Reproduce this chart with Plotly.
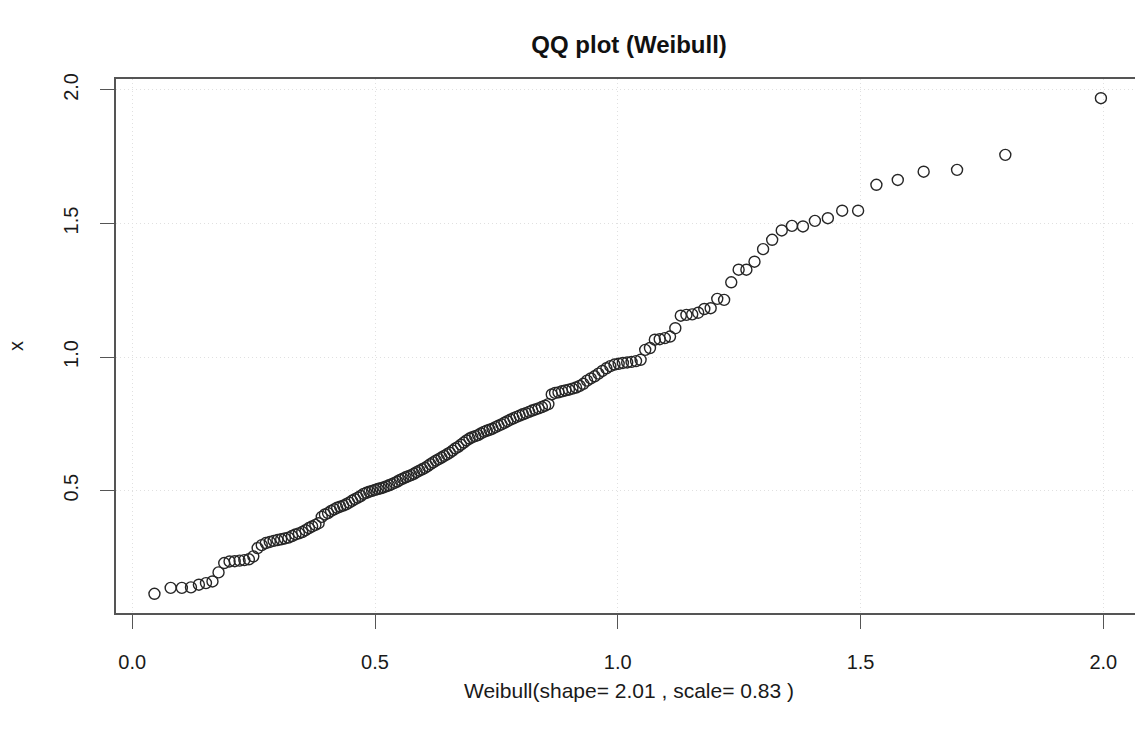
import plotly.graph_objects as go

# Theoretical Weibull quantiles (shape=2.01, scale=0.83), read from the x-axis
theoretical = [
    0.0457, 0.0791, 0.1021, 0.1209, 0.1372, 0.1518, 0.1652, 0.1777, 0.1894, 0.2004,
    0.2110, 0.2211, 0.2308, 0.2402, 0.2493, 0.2582, 0.2667, 0.2751, 0.2833, 0.2912,
    0.2991, 0.3067, 0.3143, 0.3217, 0.3290, 0.3361, 0.3432, 0.3501, 0.3570, 0.3638,
    0.3705, 0.3772, 0.3838, 0.3903, 0.3968, 0.4032, 0.4095, 0.4158, 0.4220, 0.4282,
    0.4344, 0.4405, 0.4466, 0.4526, 0.4586, 0.4646, 0.4705, 0.4765, 0.4824, 0.4882,
    0.4941, 0.4999, 0.5057, 0.5115, 0.5173, 0.5230, 0.5288, 0.5345, 0.5402, 0.5459,
    0.5516, 0.5573, 0.5630, 0.5687, 0.5744, 0.5800, 0.5857, 0.5914, 0.5971, 0.6027,
    0.6084, 0.6141, 0.6198, 0.6255, 0.6312, 0.6369, 0.6426, 0.6483, 0.6540, 0.6598,
    0.6655, 0.6713, 0.6771, 0.6829, 0.6887, 0.6946, 0.7004, 0.7063, 0.7122, 0.7181,
    0.7241, 0.7300, 0.7360, 0.7420, 0.7481, 0.7543, 0.7604, 0.7665, 0.7727, 0.7789,
    0.7852, 0.7915, 0.7979, 0.8043, 0.8107, 0.8172, 0.8237, 0.8303, 0.8369, 0.8436,
    0.8503, 0.8571, 0.8640, 0.8709, 0.8779, 0.8850, 0.8921, 0.8993, 0.9066, 0.9140,
    0.9215, 0.9290, 0.9367, 0.9444, 0.9523, 0.9602, 0.9683, 0.9765, 0.9847, 0.9932,
    1.0018, 1.0105, 1.0194, 1.0284, 1.0376, 1.0470, 1.0565, 1.0663, 1.0763, 1.0864,
    1.0969, 1.1076, 1.1185, 1.1298, 1.1414, 1.1533, 1.1656, 1.1782, 1.1913, 1.2049,
    1.2190, 1.2337, 1.2489, 1.2649, 1.2816, 1.2993, 1.3180, 1.3377, 1.3587, 1.3814,
    1.4060, 1.4327, 1.4622, 1.4950, 1.5327, 1.5767, 1.6300, 1.6988, 1.7982, 1.9951,
]

# Sorted sample values (y-axis "x")
sample = [
    0.114, 0.136, 0.136, 0.138, 0.148, 0.154, 0.160, 0.194, 0.229, 0.235,
    0.236, 0.238, 0.240, 0.243, 0.254, 0.285, 0.296, 0.304, 0.308, 0.312,
    0.315, 0.318, 0.321, 0.324, 0.330, 0.336, 0.340, 0.345, 0.352, 0.360,
    0.366, 0.372, 0.378, 0.402, 0.411, 0.416, 0.424, 0.430, 0.436, 0.440,
    0.444, 0.449, 0.455, 0.462, 0.468, 0.474, 0.480, 0.488, 0.492, 0.496,
    0.499, 0.503, 0.506, 0.509, 0.512, 0.516, 0.520, 0.524, 0.529, 0.534,
    0.540, 0.545, 0.550, 0.554, 0.558, 0.563, 0.569, 0.575, 0.580, 0.585,
    0.592, 0.599, 0.606, 0.612, 0.618, 0.624, 0.630, 0.636, 0.642, 0.650,
    0.658, 0.664, 0.672, 0.680, 0.688, 0.695, 0.700, 0.704, 0.708, 0.714,
    0.720, 0.724, 0.728, 0.732, 0.738, 0.743, 0.748, 0.754, 0.760, 0.766,
    0.771, 0.776, 0.781, 0.786, 0.790, 0.795, 0.800, 0.804, 0.808, 0.813,
    0.818, 0.824, 0.860, 0.866, 0.868, 0.872, 0.875, 0.878, 0.882, 0.886,
    0.892, 0.900, 0.912, 0.920, 0.928, 0.938, 0.948, 0.958, 0.966, 0.972,
    0.975, 0.978, 0.980, 0.982, 0.985, 0.990, 1.027, 1.034, 1.065, 1.067,
    1.071, 1.077, 1.108, 1.155, 1.158, 1.160, 1.166, 1.180, 1.183, 1.218,
    1.214, 1.280, 1.327, 1.327, 1.357, 1.404, 1.439, 1.474, 1.491, 1.489,
    1.510, 1.520, 1.548, 1.548, 1.645, 1.663, 1.694, 1.701, 1.757, 1.969,
]

x_ticks = [0.0, 0.5, 1.0, 1.5, 2.0]
x_tick_labels = ["0.0", "0.5", "1.0", "1.5", "2.0"]
y_ticks = [0.5, 1.0, 1.5, 2.0]
y_tick_labels = ["0.5", "1.0", "1.5", "2.0"]

title_text = "QQ plot (Weibull)"
x_label = "Weibull(shape= 2.01 , scale= 0.83 )"
y_label = "x"

FONT = "Liberation Sans, Arial, Helvetica, sans-serif"
AXIS = "#555555"
TXT = "#1a1a1a"

fig = go.Figure(
    go.Scatter(
        x=theoretical,
        y=sample,
        mode="markers",
        marker=dict(symbol="circle-open", size=11, color="#262626",
                    line=dict(width=1.4, color="#262626")),
        hoverinfo="x+y",
    )
)

fig.update_layout(
    width=1135,
    height=731,
    margin=dict(l=116, r=0, t=79, b=118),
    paper_bgcolor="white",
    plot_bgcolor="white",
    showlegend=False,
    font=dict(family=FONT, size=20, color=TXT),
    title=dict(
        text="<b>" + title_text + "</b>",
        x=0.5035, xref="paper", xanchor="center",
        y=1 - 45 / 731, yref="container", yanchor="middle",
        font=dict(family=FONT, size=24, color="#111111"),
    ),
    annotations=[
        dict(text=x_label, xref="paper", yref="paper", x=0.5035, y=-(690 - 613) / 534,
             xanchor="center", yanchor="middle", showarrow=False,
             font=dict(family=FONT, size=21, color=TXT)),
        dict(text=y_label, xref="paper", yref="paper", x=(16 - 116) / 1019, y=0.5,
             xanchor="center", yanchor="middle", showarrow=False, textangle=-90,
             font=dict(family=FONT, size=20, color=TXT)),
    ],
)

fig.update_xaxes(
    range=[-0.0335, 2.0653],
    tickmode="array", tickvals=x_ticks, ticktext=x_tick_labels,
    showline=True, mirror=True, linecolor=AXIS, linewidth=1.5,
    ticks="outside", ticklen=14, tickcolor=AXIS, tickwidth=1.2,
    ticklabelstandoff=16,
    showgrid=True, gridcolor="#e0e0e0", griddash="1px,3px", gridwidth=1,
    zeroline=False,
    tickfont=dict(family=FONT, size=20, color=TXT),
)
fig.update_yaxes(
    range=[0.042, 2.041],
    tickmode="array", tickvals=y_ticks, ticktext=y_tick_labels,
    tickangle=-90,
    showline=True, mirror=False, linecolor=AXIS, linewidth=1.5,
    ticks="outside", ticklen=14, tickcolor=AXIS, tickwidth=1.2,
    ticklabelstandoff=14,
    showgrid=True, gridcolor="#e0e0e0", griddash="1px,3px", gridwidth=1,
    zeroline=False,
    tickfont=dict(family=FONT, size=20, color=TXT),
)

fig.write_html("out.html")
